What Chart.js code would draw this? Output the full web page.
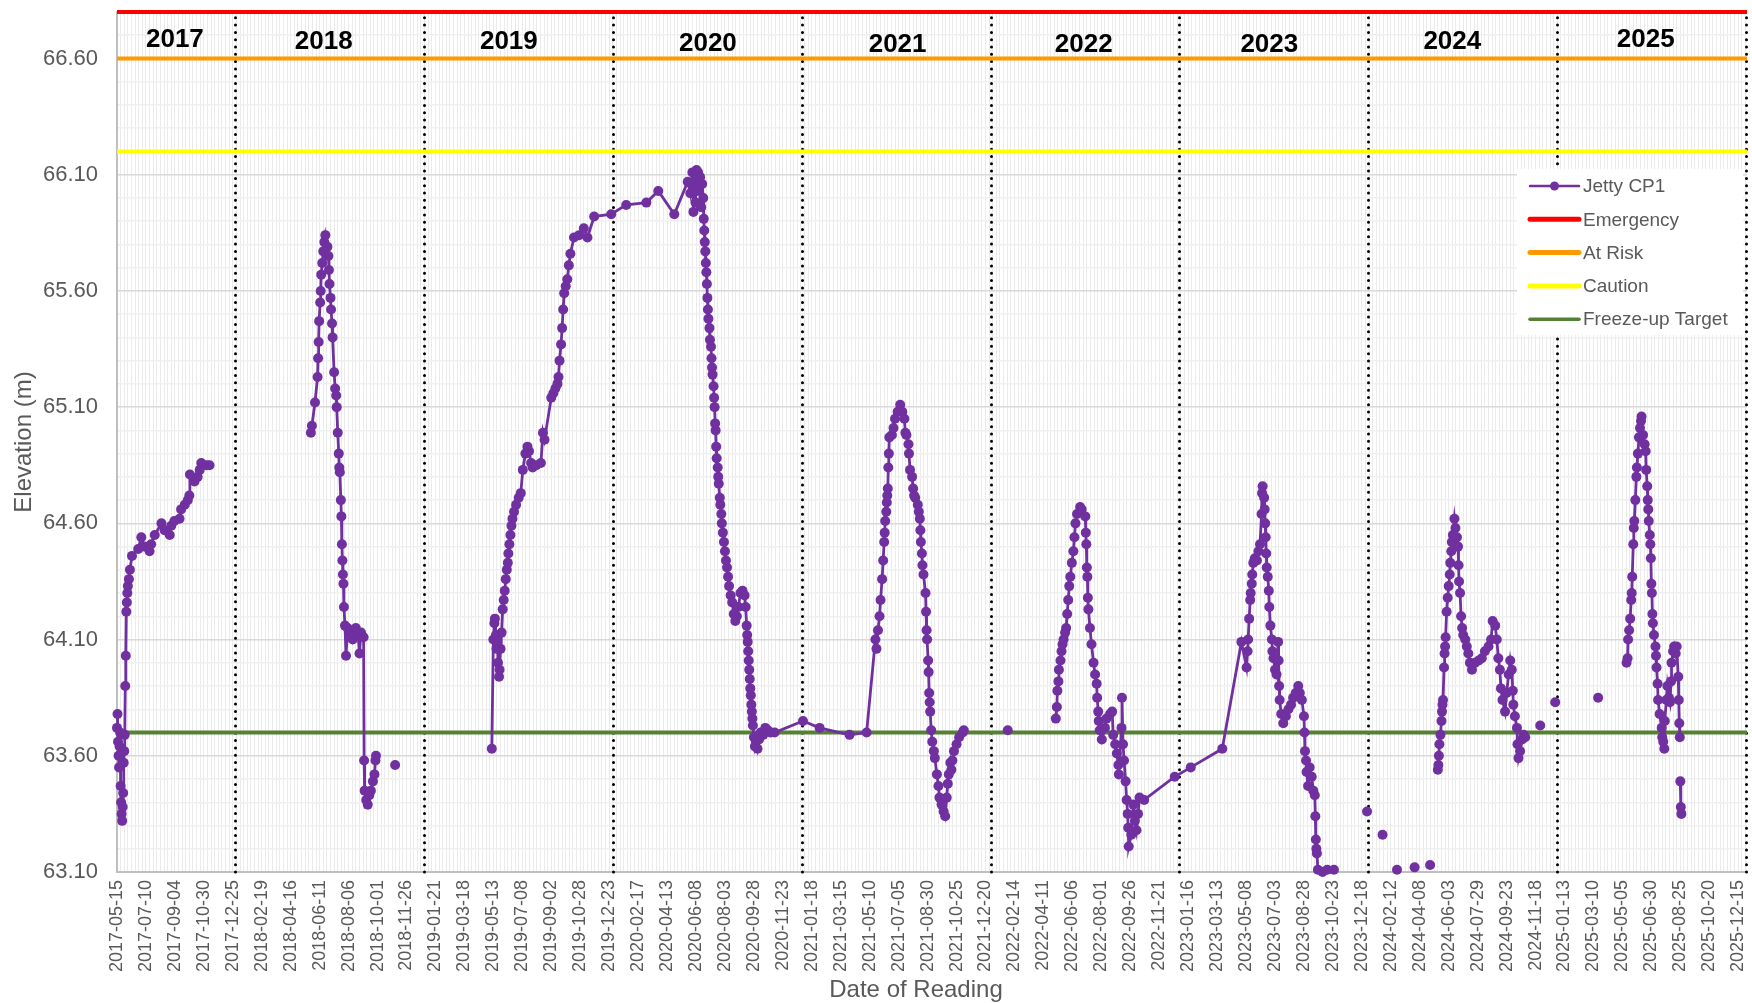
<!DOCTYPE html>
<html>
<head>
<meta charset="utf-8">
<title>Jetty CP1 Elevation</title>
<script src="https://cdn.jsdelivr.net/npm/chart.js@4.4.1/dist/chart.umd.min.js"></script>
<style>
  html, body { margin: 0; padding: 0; background: #ffffff; }
  #wrap { width: 1752px; height: 1003px; }
</style>
</head>
<body>
<div id="wrap"><canvas id="levelChart" width="1752" height="1003"></canvas></div>
<script>
// ---- readings, one pair of arrays per year (MM-DD, elevation in m); null = break in the line
const dates2017 = ['05-15','05-16','05-17','05-18','05-19','05-20','05-21','05-22','05-23','05-24','05-25','05-26','05-27','05-28','05-29','05-30','05-31',
  '06-01','06-02','06-03','06-04','06-05','06-07','06-09','06-13','06-25','07-01','07-07','07-17','07-20','07-27','08-09','08-15','08-25','08-28',
  '09-03','09-13','09-16','09-23','09-29','10-02','10-03','10-12','10-18','10-22','10-25','11-04','11-10','12-31'];
const elev2017 = [63.72,63.78,63.66,63.60,63.55,63.64,63.70,63.47,63.40,63.35,63.32,63.38,63.44,63.57,63.62,63.69,63.90,
  64.03,64.22,64.26,64.30,64.33,64.36,64.40,64.46,64.49,64.54,64.50,64.48,64.51,64.55,64.60,64.57,64.55,64.59,
  64.61,64.62,64.66,64.68,64.70,64.72,64.81,64.78,64.80,64.83,64.86,64.85,64.85,null];

const dates2018 = ['05-25','05-27','06-02','06-07','06-08','06-09','06-10','06-12','06-13','06-14','06-16','06-18','06-20','06-22',
  '06-26','06-28','06-29','06-30','07-02','07-03','07-05','07-06','07-09','07-11','07-13','07-14','07-16','07-18','07-19','07-20',
  '07-22','07-23','07-24','07-25','07-26','07-27','07-28','07-30','08-01','08-04','08-07','08-11','08-14','08-17','08-20','08-24',
  '08-27','08-30','09-04','09-05','09-06','09-09','09-12','09-15','09-18','09-22','09-25','09-27','09-28','10-15','11-04','12-31'];
const elev2018 = [64.99,65.02,65.12,65.23,65.31,65.38,65.47,65.55,65.60,65.67,65.72,65.77,65.81,65.84,
  65.79,65.75,65.69,65.63,65.57,65.52,65.46,65.40,65.25,65.18,65.15,65.10,64.99,64.90,64.84,64.82,
  64.70,64.63,64.51,64.44,64.38,64.34,64.24,64.16,64.03,64.15,64.14,64.13,64.10,64.12,64.15,64.13,
  64.04,64.13,64.11,63.58,63.45,63.41,63.39,63.43,63.45,63.49,63.52,63.58,63.60,null,63.56,null];

const dates2019 = ['05-10','05-13','05-15','05-16','05-18','05-19','05-21','05-22','05-24','05-25','05-27','05-29','05-31',
  '06-02','06-04','06-06','06-08','06-10','06-11','06-13','06-15','06-17','06-19','06-22','06-26',
  '07-01','07-05','07-09','07-14','07-18','07-21','07-25','07-28','08-04','08-13','08-17','08-20',
  '09-02','09-06','09-10','09-14','09-16','09-18','09-21','09-23','09-25','09-27','09-30',
  '10-03','10-06','10-09','10-16','10-26','11-04','11-11','11-24','12-27'];
const elev2019 = [63.63,64.10,64.17,64.19,64.12,64.06,64.09,64.00,63.94,63.97,64.06,64.13,64.23,
  64.27,64.31,64.36,64.40,64.43,64.47,64.51,64.55,64.59,64.62,64.65,64.68,
  64.71,64.73,64.83,64.90,64.93,64.91,64.86,64.84,64.85,64.86,64.99,64.96,
  65.14,65.16,65.18,65.20,65.23,65.30,65.37,65.44,65.52,65.59,65.62,
  65.65,65.71,65.76,65.83,65.84,65.87,65.83,65.92,65.93];

const dates2020 = ['01-25','03-04','03-27','04-27','05-23','05-28',
  '06-01','06-03','06-05','06-07','06-09','06-11','06-12','06-14','06-16','06-18','06-20','06-22',
  '06-23','06-24','06-25','06-26','06-27','06-28','06-29','06-30','07-01','07-02','07-04','07-05','07-07','07-08','07-09','07-10',
  '07-12','07-13','07-14','07-15','07-16','07-17','07-18','07-20','07-21','07-22','07-24','07-25','07-27','07-28','07-30',
  '08-01','08-03','08-05','08-07','08-09','08-11','08-14','08-17','08-20','08-23','08-26','08-29',
  '09-02','09-06','09-10','09-12','09-14','09-15','09-16','09-17','09-18','09-19','09-20','09-21','09-22','09-23','09-24','09-25','09-26','09-28','09-30',
  '10-02','10-05','10-08','10-11','10-16','10-20','10-25','10-30','11-07'];
const elev2020 = [65.97,65.98,66.03,65.93,66.07,66.02,
  66.11,65.94,66.07,65.98,66.12,66.03,66.11,66.05,66.09,65.96,66.06,66.00,
  65.91,65.86,65.81,65.77,65.72,65.68,65.63,65.57,65.52,65.48,65.44,65.39,65.36,65.31,65.27,65.24,
  65.19,65.14,65.10,65.03,65.00,64.93,64.88,64.84,64.80,64.77,64.71,64.68,64.64,64.60,64.56,
  64.52,64.48,64.44,64.41,64.37,64.33,64.29,64.26,64.21,64.18,64.20,64.24,
  64.30,64.31,64.29,64.24,64.16,64.12,64.09,64.05,64.01,63.97,63.93,63.89,63.86,63.82,63.79,63.76,63.73,63.68,63.64,
  63.66,63.63,63.67,63.70,63.69,63.72,63.71,63.70,63.70];

const dates2021 = ['01-01','02-02','04-01','05-04','05-21','05-23','05-26','05-29','05-31',
  '06-03','06-05','06-07','06-08','06-09','06-11','06-12','06-13','06-14','06-15','06-16','06-17','06-22','06-25','06-28',
  '07-03','07-08','07-12','07-16','07-18','07-20','07-24','07-25','07-27','07-31',
  '08-02','08-04','08-06','08-11','08-13','08-15','08-16','08-17','08-19','08-20','08-22','08-26','08-27','08-28','08-29','08-31',
  '09-01','09-02','09-03','09-04','09-06','09-08','09-11','09-13','09-17','09-20','09-22','09-26','09-30',
  '10-03','10-06','10-08','10-10','10-13','10-15','10-17','10-20','10-25','10-30','11-06','11-08','12-15'];
const elev2021 = [63.75,63.72,63.69,63.70,64.10,64.06,64.14,64.20,64.27,
  64.36,64.44,64.52,64.56,64.61,64.65,64.69,64.72,64.75,64.84,64.90,64.97,64.98,65.01,65.05,
  65.08,65.11,65.08,65.05,64.99,64.98,64.94,64.90,64.83,64.80,
  64.75,64.72,64.71,64.68,64.65,64.62,64.57,64.52,64.47,64.42,64.38,64.30,64.22,64.14,64.10,64.01,
  63.96,63.87,63.83,63.79,63.71,63.66,63.62,63.59,63.52,63.47,63.42,63.39,63.36,
  63.34,63.42,63.48,63.52,63.57,63.54,63.58,63.62,63.65,63.68,63.70,63.71,null];

const dates2022 = ['02-01','03-15','05-05','05-07','05-08','05-10','05-11','05-14','05-16','05-18','05-20','05-23','05-25','05-27','05-29','05-31',
  '06-02','06-05','06-08','06-10','06-12','06-15','06-21','06-24',
  '07-01','07-02','07-03','07-04','07-05','07-06','07-07','07-10','07-13','07-17','07-20','07-23','07-24','07-26','07-27','07-29',
  '08-02','08-08','08-11','08-18','08-22','08-24','08-28','08-31',
  '09-03','09-04','09-09','09-10','09-12','09-14','09-17','09-19','09-21','09-22','09-23','09-28',
  '10-02','10-05','10-08','10-11','10-14','10-23','12-21'];
const elev2022 = [63.71,null,63.76,63.81,63.88,63.92,63.97,64.01,64.05,64.08,64.10,64.13,64.15,64.21,64.27,64.33,
  64.37,64.43,64.48,64.54,64.60,64.64,64.67,64.66,
  64.63,64.56,64.51,64.41,64.37,64.28,64.23,64.15,64.08,64.00,63.95,63.91,63.85,63.79,63.75,63.71,
  63.67,63.72,63.76,63.78,63.79,63.69,63.65,63.61,
  63.56,63.52,63.72,63.85,63.65,63.58,63.49,63.41,63.35,63.29,63.21,63.26,
  63.39,63.32,63.28,63.35,63.42,63.41,63.51];

const dates2023 = ['01-21','03-23','04-29','05-09','05-11','05-12','05-14','05-16','05-17','05-19','05-20','05-22','05-25','05-29',
  '06-01','06-04','06-07','06-08','06-09','06-12','06-13','06-14','06-15','06-16','06-17','06-19','06-21','06-22','06-24','06-27','06-28','06-30',
  '07-03','07-06','07-09','07-10','07-11','07-12','07-15','07-19','07-24','07-29',
  '08-03','08-07','08-12','08-17','08-20','08-24','08-28','08-29','08-30',
  '09-01','09-02','09-05','09-08','09-12','09-15','09-18','09-19','09-20','09-21','09-22','09-24',
  '10-03','10-12','10-25','11-25','12-28'];
const elev2023 = [63.55,63.63,64.09,63.98,64.05,64.10,64.19,64.27,64.30,64.34,64.38,64.43,64.45,64.44,
  64.48,64.51,64.64,64.73,64.76,64.71,64.66,64.60,64.54,64.47,64.41,64.37,64.31,64.24,64.16,64.10,64.05,64.02,
  63.97,63.95,64.09,64.01,63.90,63.84,63.78,63.74,63.77,63.80,
  63.82,63.85,63.87,63.90,63.87,63.84,63.77,63.70,63.62,
  63.58,63.53,63.47,63.55,63.51,63.45,63.43,63.34,63.24,63.20,63.18,63.11,
  63.10,63.11,63.11,null,63.36];

const dates2024 = ['01-10','01-27','02-10','02-24','03-10','03-29','04-15','04-28','05-05',
  '05-13','05-14','05-15','05-16','05-18','05-20','05-21','05-22','05-23','05-25','05-26','05-27','05-28','05-30',
  '06-01','06-03','06-05','06-06','06-08','06-09','06-11','06-14','06-16','06-19','06-21','06-22','06-23','06-25','06-27','06-29',
  '07-01','07-05','07-08','07-11','07-14','07-18','07-24','07-31','08-06','08-12','08-19','08-24','08-27',
  '09-01','09-04','09-07','09-10','09-12','09-15','09-20','09-23','09-27','09-30',
  '10-03','10-05','10-06','10-09','10-13','10-14','10-16','10-19','10-23','10-26','10-29','11-12','11-27','12-10','12-26'];
const elev2024 = [null,63.26,null,63.11,null,63.12,null,63.13,null,
  63.54,63.56,63.60,63.65,63.69,63.75,63.79,63.82,63.84,63.98,64.04,64.07,64.11,64.22,
  64.28,64.33,64.38,64.43,64.48,64.52,64.55,64.62,64.58,64.54,64.50,64.42,64.35,64.30,64.20,64.15,
  64.12,64.10,64.07,64.04,64.00,63.97,64.00,64.01,64.02,64.05,64.07,64.10,64.18,
  64.16,64.10,64.02,63.97,63.89,63.84,63.79,63.87,63.95,64.01,
  63.97,63.88,63.82,63.77,63.72,63.65,63.59,63.62,63.67,63.69,63.68,null,63.73,null,63.83];

const dates2025 = ['01-20','03-19','04-20','05-13','05-15','05-16','05-18','05-20','05-22','05-23','05-24','05-26','05-27','05-28','05-30',
  '06-01','06-02','06-04','06-06','06-08','06-10','06-11','06-14','06-17','06-19','06-20','06-22','06-23','06-24','06-25','06-27','06-28','06-29','06-30',
  '07-01','07-02','07-03','07-05','07-08','07-09','07-10','07-12','07-13','07-16','07-20','07-21','07-23','07-25','07-26','07-29','07-31',
  '08-03','08-05','08-07','08-08','08-11','08-13','08-16','08-18','08-21','08-22','08-23','08-24','08-24','08-25','08-26','08-27'];
const elev2025 = [null,63.85,null,64.00,64.02,64.10,64.14,64.19,64.27,64.30,64.37,64.51,64.58,64.61,64.70,
  64.80,64.84,64.90,64.97,65.01,65.04,65.06,64.98,64.94,64.91,64.83,64.76,64.70,64.66,64.61,64.55,64.51,64.45,64.34,
  64.30,64.21,64.17,64.12,64.07,64.03,63.98,63.91,63.84,63.78,63.72,63.68,63.66,63.63,63.75,63.84,63.90,
  63.85,63.83,63.92,64.00,64.05,64.07,64.04,64.07,63.94,63.84,63.74,63.68,null,63.49,63.38,63.35];

const seriesYears = [2017, 2018, 2019, 2020, 2021, 2022, 2023, 2024, 2025];
const seriesDates = [dates2017, dates2018, dates2019, dates2020, dates2021, dates2022, dates2023, dates2024, dates2025];
const seriesElev  = [elev2017, elev2018, elev2019, elev2020, elev2021, elev2022, elev2023, elev2024, elev2025];

// ---- level lines
const thresholdNames  = ['Emergency', 'At Risk', 'Caution', 'Freeze-up Target'];
const thresholdLevels = [66.8, 66.6, 66.2, 63.7];

// ---- axes
const axisStart = '2017-05-15';
const axisEnd   = '2026-01-01';
const yMin = 63.1, yMax = 66.8;

// ---- year separators and year captions
const yearBreaks = ['2018-01-01','2019-01-01','2020-01-01','2021-01-01','2022-01-01','2023-01-01','2024-01-01','2025-01-01','2026-01-01'];
const yearLabels = ['2017','2018','2019','2020','2021','2022','2023','2024','2025'];
const yearLabelDates  = ['2017-09-04','2018-06-19','2019-06-12','2020-07-01','2021-07-03','2022-06-28','2023-06-22','2024-06-10','2025-06-19'];
const yearLabelLevels = [66.68, 66.67, 66.67, 66.665, 66.66, 66.66, 66.66, 66.67, 66.68];

// -------------------------------------------------------------------------
const toDay = s => Date.UTC(+s.slice(0, 4), +s.slice(5, 7) - 1, +s.slice(8, 10)) / 86400000;
const fmtDay = d => new Date(d * 86400000).toISOString().slice(0, 10);
const xMin = toDay(axisStart), xMax = toDay(axisEnd);

const cp1Points = [];
seriesYears.forEach((yr, i) => {
  if (seriesDates[i].length !== seriesElev[i].length) console.warn('length mismatch', yr);
  seriesDates[i].forEach((md, j) => {
    cp1Points.push({ x: toDay(yr + '-' + md), y: seriesElev[i][j] });
  });
});

const lineColors = ['#FF0000', '#FF9900', '#FFFF00', '#548235'];

const datasets = [{
  label: 'Jetty CP1',
  data: cp1Points,
  borderColor: '#7030A0',
  backgroundColor: '#7030A0',
  pointBackgroundColor: '#7030A0',
  pointBorderColor: '#7030A0',
  borderWidth: 2.8,
  pointRadius: 5,
  pointBorderWidth: 0,
  tension: 0,
  spanGaps: false,
  clip: false
}];
thresholdNames.forEach((name, i) => {
  datasets.push({
    label: name,
    data: [{ x: xMin, y: thresholdLevels[i] }, { x: xMax, y: thresholdLevels[i] }],
    borderColor: lineColors[i],
    backgroundColor: lineColors[i],
    borderWidth: 4,
    pointRadius: 0,
    tension: 0,
    clip: false
  });
});

const yTicks = [];
for (let i = 0; i <= Math.round((yMax - yMin) * 10); i++) yTicks.push(+(yMin + i * 0.1).toFixed(1));

const overlay = {
  id: 'overlay',
  beforeDatasetsDraw(chart) {
    const { ctx, chartArea: ca, scales: { x } } = chart;
    ctx.save();
    ctx.strokeStyle = '#000000';
    ctx.lineWidth = 3;
    ctx.lineCap = 'round';
    ctx.setLineDash([0.001, 7.3]);
    yearBreaks.forEach(d => {
      const px = Math.round(x.getPixelForValue(toDay(d))) - 0.5;
      ctx.beginPath();
      ctx.moveTo(px, ca.bottom);
      ctx.lineTo(px, ca.top);
      ctx.stroke();
    });
    ctx.restore();
  },
  afterDatasetsDraw(chart) {
    const { ctx, scales: { x, y } } = chart;
    ctx.save();
    ctx.fillStyle = '#000000';
    ctx.font = "bold 26px 'Liberation Sans', Arial, sans-serif";
    ctx.textAlign = 'center';
    ctx.textBaseline = 'middle';
    yearLabels.forEach((t, i) => {
      ctx.fillText(t, x.getPixelForValue(toDay(yearLabelDates[i])), y.getPixelForValue(yearLabelLevels[i]));
    });
    ctx.restore();
  },
  afterDraw(chart) {
    const { ctx, chartArea: ca } = chart;
    // x axis title, sits a little left of the plot centre
    ctx.save();
    ctx.fillStyle = '#595959';
    ctx.font = "24px 'Liberation Sans', Arial, sans-serif";
    ctx.textAlign = 'center';
    ctx.textBaseline = 'middle';
    ctx.fillText('Date of Reading', 916, 990);
    ctx.restore();

    // legend box inside the plot, top right
    const bx = ca.right - 230, by = ca.top + 157, bw = 226, bh = 166;
    ctx.save();
    ctx.fillStyle = '#ffffff';
    ctx.fillRect(bx, by, bw, bh);
    ctx.font = "19px 'Liberation Sans', Arial, sans-serif";
    ctx.textBaseline = 'middle';
    ctx.textAlign = 'left';
    chart.data.datasets.forEach((ds, i) => {
      const cy = by + 17 + i * 33.3;
      const x0 = bx + 13, x1 = bx + 62;
      ctx.strokeStyle = ds.borderColor;
      ctx.lineWidth = i === 0 ? 2.5 : (i === 4 ? 3.5 : 5);
      ctx.lineCap = 'round';
      ctx.beginPath();
      ctx.moveTo(x0, cy);
      ctx.lineTo(x1, cy);
      ctx.stroke();
      if (i === 0) {
        ctx.fillStyle = ds.borderColor;
        ctx.beginPath();
        ctx.arc((x0 + x1) / 2, cy, 4.5, 0, Math.PI * 2);
        ctx.fill();
      }
      ctx.fillStyle = '#595959';
      ctx.fillText(ds.label, bx + 66, cy + 1);
    });
    ctx.restore();
  }
};

Chart.defaults.font.family = "'Liberation Sans', Arial, sans-serif";
Chart.defaults.color = '#595959';

new Chart(document.getElementById('levelChart'), {
  type: 'line',
  data: { datasets },
  options: {
    responsive: false,
    animation: false,
    devicePixelRatio: 1,
    layout: { padding: { top: 12, right: 3, bottom: 0, left: 0 } },
    plugins: { legend: { display: false }, tooltip: { enabled: false } },
    scales: {
      x: {
        type: 'linear',
        min: xMin,
        max: xMax,
        afterBuildTicks: s => {
          const t = [];
          for (let d = xMin; d <= xMax; d += 7) t.push({ value: d });
          s.ticks = t;
        },
        afterFit: s => { s.height = 131; s.paddingLeft = 0; s.paddingRight = 0; },
        ticks: {
          autoSkip: false,
          minRotation: 90,
          maxRotation: 90,
          padding: 8,
          color: '#595959',
          font: { size: 18 },
          callback: v => ((v - xMin) % 56 === 0 ? fmtDay(v) : '')
        },
        grid: { color: '#EBEBEB', lineWidth: 1, drawTicks: false },
        border: { color: '#BFBFBF', width: 2 },
        title: { display: false }
      },
      y: {
        type: 'linear',
        min: yMin,
        max: yMax,
        afterBuildTicks: s => { s.ticks = yTicks.map(v => ({ value: v })); },
        afterFit: s => { s.width = 117; s.paddingTop = 0; s.paddingBottom = 0; },
        ticks: {
          autoSkip: false,
          padding: 19,
          color: '#595959',
          font: { size: 22, lineHeight: 1 },
          callback: (v, i) => (i % 5 === 0 ? v.toFixed(2) : '')
        },
        grid: {
          drawTicks: false,
          color: c => (c.index % 5 === 0 ? '#D9D9D9' : '#F0F0F0'),
          lineWidth: 1.5
        },
        border: { color: '#BFBFBF', width: 2 },
        title: {
          display: true,
          text: 'Elevation (m)',
          color: '#595959',
          font: { size: 24 },
          padding: { top: 10, bottom: 0 }
        }
      }
    }
  },
  plugins: [overlay]
});
</script>
</body>
</html>
